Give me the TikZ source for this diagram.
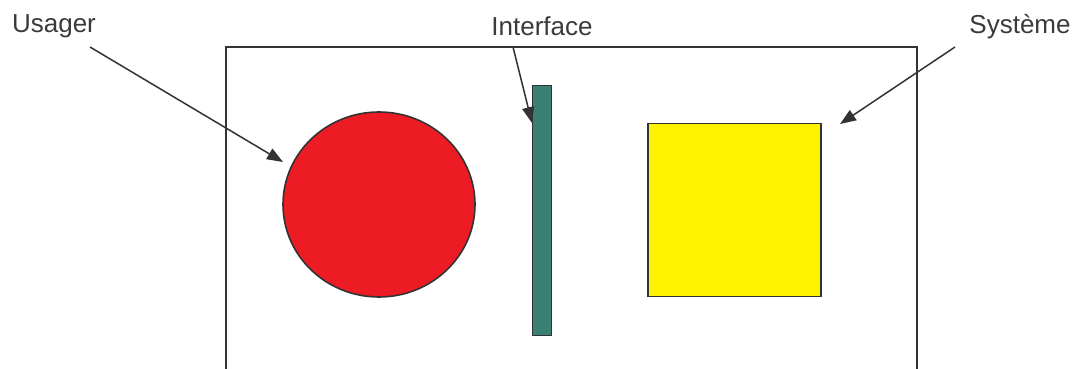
\documentclass[tikz,border=0pt]{standalone}
\usepackage{fontspec}
\setmainfont{Liberation Sans}
\usetikzlibrary{arrows.meta,shapes.geometric}
\definecolor{ink}{HTML}{333333}
\definecolor{txt}{HTML}{3A3A3A}
\definecolor{redfill}{HTML}{ED1C24}
\definecolor{tealfill}{HTML}{3A8074}
\definecolor{yellowfill}{HTML}{FFF200}
\tikzset{
  lbl/.style={font=\fontsize{26}{30}\selectfont, text=txt, inner sep=0pt},
  pointer/.style={draw=ink, line width=1.5pt, -{Triangle[length=16pt,width=12pt]}},
  shapeline/.style={draw=ink, line width=1.6pt},
}
\begin{document}
\begin{tikzpicture}[x=1pt,y=-1pt]
\useasboundingbox (0,0) rectangle (1077,369);
% open frame
\draw[draw=ink, line width=1.6pt] (226,372) -- (226,47) -- (917,47) -- (917,372);
% shapes
\node[shapeline, ellipse, fill=redfill, minimum width=192pt, minimum height=185pt, inner sep=0pt] (usr) at (379,204.5) {};
\node[shapeline, rectangle, fill=tealfill, minimum width=19pt, minimum height=250pt, inner sep=0pt] (ifc) at (542,210.5) {};
\node[shapeline, rectangle, fill=yellowfill, minimum width=173pt, minimum height=173pt, inner sep=0pt] (sys) at (734.5,210) {};
% labels
\node[lbl] (lusr) at (54,26.5) {Usager};
\node[lbl] (lifc) at (542,26.5) {Interface};
\node[lbl] (lsys) at (1020,26.5) {Système};
% pointer ends
\coordinate (susr) at (90,47);
\coordinate (tusr) at (283,162);
\coordinate (sifc) at (513,47);
\coordinate (tifc) at (532,123);
\coordinate (ssys) at (955,47);
\coordinate (tsys) at (840,124);
\draw[pointer] (susr) -- (tusr);
\draw[pointer] (sifc) -- (tifc);
\draw[pointer] (ssys) -- (tsys);
\end{tikzpicture}
\end{document}
